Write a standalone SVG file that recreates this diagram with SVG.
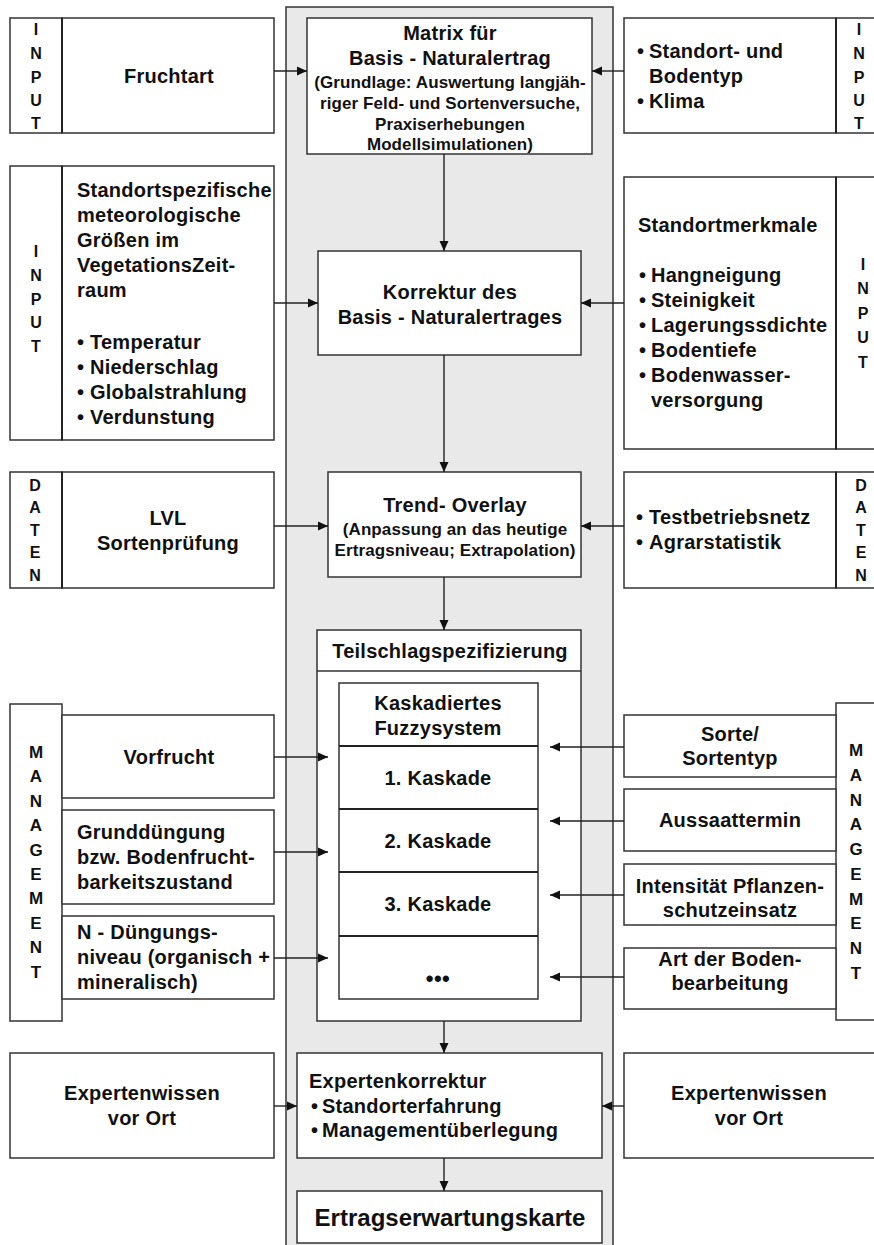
<svg xmlns="http://www.w3.org/2000/svg" width="874" height="1245" viewBox="0 0 874 1245">
<style>
.box{fill:#fff;stroke:#333;stroke-width:1.5}
.div{stroke:#222;stroke-width:2;fill:none}
.t{font-family:"Liberation Sans",Arial,sans-serif;font-weight:bold;font-size:20px;fill:#111;letter-spacing:0.25px}
.c{text-anchor:middle}
.s{font-size:17px;letter-spacing:0.1px}
.v{font-size:16px;text-anchor:middle;letter-spacing:0}
.m{font-size:17px}
.big{font-size:24px;letter-spacing:0}
.ln{stroke:#222;stroke-width:1.4;fill:none;marker-end:url(#ah)}
</style>
<defs>
<marker id="ah" viewBox="0 0 10 10" refX="10" refY="5" markerWidth="10" markerHeight="10" markerUnits="userSpaceOnUse" orient="auto">
<path d="M0,0.5 L10,5 L0,9.5 z" fill="#111"/>
</marker>
</defs>
<rect x="0" y="0" width="874" height="1245" fill="#fff"/>
<rect id="band" x="286" y="7" width="327" height="1250" fill="#e9e9e9" stroke="#333" stroke-width="1.5"/>

<!-- Left column -->
<g id="in-fruchtart">
<rect class="box" x="10" y="18" width="52" height="115"/>
<rect class="box" x="62" y="18" width="212" height="115"/>
<line class="div" x1="62" y1="18" x2="62" y2="133"/>
<text class="t v"><tspan x="36" y="35">I</tspan><tspan x="36" y="59">N</tspan><tspan x="36" y="83">P</tspan><tspan x="36" y="106">U</tspan><tspan x="36" y="129">T</tspan></text>
<text class="t c" x="169" y="83">Fruchtart</text>
</g>

<g id="in-meteo">
<rect class="box" x="10" y="166" width="52" height="274"/>
<rect class="box" x="62" y="166" width="212" height="274"/>
<line class="div" x1="62" y1="166" x2="62" y2="440"/>
<text class="t v"><tspan x="36" y="257">I</tspan><tspan x="36" y="281">N</tspan><tspan x="36" y="305">P</tspan><tspan x="36" y="328">U</tspan><tspan x="36" y="352">T</tspan></text>
<text class="t"><tspan x="77" y="197">Standortspezifische</tspan><tspan x="77" y="222">meteorologische</tspan><tspan x="77" y="247">Größen im</tspan><tspan x="77" y="272">VegetationsZeit-</tspan><tspan x="77" y="297">raum</tspan></text>
<text class="t"><tspan x="77" y="349">•</tspan><tspan x="90" y="349">Temperatur</tspan><tspan x="77" y="374">•</tspan><tspan x="90" y="374">Niederschlag</tspan><tspan x="77" y="399">•</tspan><tspan x="90" y="399">Globalstrahlung</tspan><tspan x="77" y="424">•</tspan><tspan x="90" y="424">Verdunstung</tspan></text>
</g>

<g id="daten-lvl">
<rect class="box" x="10" y="472" width="52" height="116"/>
<rect class="box" x="62" y="472" width="212" height="116"/>
<line class="div" x1="62" y1="472" x2="62" y2="588"/>
<text class="t v"><tspan x="35" y="491">D</tspan><tspan x="35" y="513">A</tspan><tspan x="35" y="536">T</tspan><tspan x="35" y="558">E</tspan><tspan x="35" y="581">N</tspan></text>
<text class="t c"><tspan x="168" y="525">LVL</tspan><tspan x="168" y="550">Sortenprüfung</tspan></text>
</g>

<g id="mgmt-left">
<rect class="box" x="10" y="704" width="52" height="317"/>
<text class="t v m"><tspan x="36" y="758">M</tspan><tspan x="36" y="782">A</tspan><tspan x="36" y="807">N</tspan><tspan x="36" y="831">A</tspan><tspan x="36" y="856">G</tspan><tspan x="36" y="880">E</tspan><tspan x="36" y="904">M</tspan><tspan x="36" y="929">E</tspan><tspan x="36" y="953">N</tspan><tspan x="36" y="978">T</tspan></text>
</g>
<g id="vorfrucht">
<rect class="box" x="62" y="715" width="212" height="83"/>
<text class="t c" x="169" y="764">Vorfrucht</text>
</g>
<g id="grundduengung">
<rect class="box" x="62" y="810" width="212" height="94"/>
<text class="t"><tspan x="77" y="839">Grunddüngung</tspan><tspan x="77" y="864">bzw. Bodenfrucht-</tspan><tspan x="77" y="889">barkeitszustand</tspan></text>
</g>
<g id="n-duengung">
<rect class="box" x="62" y="916" width="212" height="83"/>
<text class="t"><tspan x="77" y="939">N - Düngungs-</tspan><tspan x="77" y="964">niveau (organisch +</tspan><tspan x="77" y="989">mineralisch)</tspan></text>
</g>

<g id="experten-left">
<rect class="box" x="10" y="1053" width="264" height="105"/>
<text class="t c"><tspan x="142" y="1100">Expertenwissen</tspan><tspan x="142" y="1125">vor Ort</tspan></text>
</g>

<!-- Right column -->
<g id="in-standort">
<rect class="box" x="836" y="18" width="50" height="115"/>
<rect class="box" x="624" y="18" width="212" height="115"/>
<line class="div" x1="836" y1="18" x2="836" y2="133"/>
<text class="t v"><tspan x="859" y="35">I</tspan><tspan x="859" y="59">N</tspan><tspan x="859" y="83">P</tspan><tspan x="859" y="106">U</tspan><tspan x="859" y="129">T</tspan></text>
<text class="t"><tspan x="637" y="58">•</tspan><tspan x="649" y="58">Standort- und</tspan><tspan x="649" y="83">Bodentyp</tspan><tspan x="637" y="108">•</tspan><tspan x="649" y="108">Klima</tspan></text>
</g>

<g id="in-merkmale">
<rect class="box" x="836" y="177" width="50" height="272"/>
<rect class="box" x="624" y="177" width="212" height="272"/>
<line class="div" x1="836" y1="177" x2="836" y2="449"/>
<text class="t v"><tspan x="863" y="270">I</tspan><tspan x="863" y="294">N</tspan><tspan x="863" y="319">P</tspan><tspan x="863" y="343">U</tspan><tspan x="863" y="368">T</tspan></text>
<text class="t"><tspan x="638" y="232">Standortmerkmale</tspan>
<tspan x="639" y="282">•</tspan><tspan x="651" y="282">Hangneigung</tspan>
<tspan x="639" y="307">•</tspan><tspan x="651" y="307">Steinigkeit</tspan>
<tspan x="639" y="332">•</tspan><tspan x="651" y="332">Lagerungssdichte</tspan>
<tspan x="639" y="357">•</tspan><tspan x="651" y="357">Bodentiefe</tspan>
<tspan x="639" y="382">•</tspan><tspan x="651" y="382">Bodenwasser-</tspan>
<tspan x="651" y="407">versorgung</tspan></text>
</g>

<g id="daten-right">
<rect class="box" x="836" y="472" width="50" height="116"/>
<rect class="box" x="624" y="472" width="212" height="116"/>
<line class="div" x1="836" y1="472" x2="836" y2="588"/>
<text class="t v"><tspan x="861" y="491">D</tspan><tspan x="861" y="513">A</tspan><tspan x="861" y="536">T</tspan><tspan x="861" y="558">E</tspan><tspan x="861" y="581">N</tspan></text>
<text class="t"><tspan x="636" y="524">•</tspan><tspan x="649" y="524">Testbetriebsnetz</tspan><tspan x="636" y="549">•</tspan><tspan x="649" y="549">Agrarstatistik</tspan></text>
</g>

<g id="mgmt-right">
<rect class="box" x="836" y="703" width="50" height="317"/>
<text class="t v m"><tspan x="856" y="756">M</tspan><tspan x="856" y="781">A</tspan><tspan x="856" y="806">N</tspan><tspan x="856" y="830">A</tspan><tspan x="856" y="855">G</tspan><tspan x="856" y="880">E</tspan><tspan x="856" y="905">M</tspan><tspan x="856" y="929">E</tspan><tspan x="856" y="954">N</tspan><tspan x="856" y="979">T</tspan></text>
</g>
<g id="sorte">
<rect class="box" x="624" y="715" width="212" height="62"/>
<text class="t c"><tspan x="730" y="741">Sorte/</tspan><tspan x="730" y="765">Sortentyp</tspan></text>
</g>
<g id="aussaat">
<rect class="box" x="624" y="789" width="212" height="62"/>
<text class="t c" x="730" y="827">Aussaattermin</text>
</g>
<g id="pflanzenschutz">
<rect class="box" x="624" y="864" width="212" height="61"/>
<text class="t c"><tspan x="730" y="893">Intensität Pflanzen-</tspan><tspan x="730" y="917">schutzeinsatz</tspan></text>
</g>
<g id="bodenbearbeitung">
<rect class="box" x="624" y="948" width="212" height="61"/>
<text class="t c"><tspan x="730" y="966">Art der Boden-</tspan><tspan x="730" y="990">bearbeitung</tspan></text>
</g>

<g id="experten-right">
<rect class="box" x="624" y="1053" width="262" height="105"/>
<text class="t c"><tspan x="749" y="1100">Expertenwissen</tspan><tspan x="749" y="1125">vor Ort</tspan></text>
</g>

<!-- Central column -->
<g id="matrix">
<rect class="box" x="307" y="18" width="285" height="136"/>
<text class="t c"><tspan x="450" y="40">Matrix für</tspan><tspan x="450" y="65">Basis - Naturalertrag</tspan></text>
<text class="t c s"><tspan x="450" y="88">(Grundlage: Auswertung langjäh-</tspan><tspan x="450" y="109">riger Feld- und Sortenversuche,</tspan><tspan x="450" y="130">Praxiserhebungen</tspan><tspan x="450" y="150">Modellsimulationen)</tspan></text>
</g>

<g id="korrektur">
<rect class="box" x="318" y="251" width="263" height="104"/>
<text class="t c"><tspan x="450" y="299">Korrektur des</tspan><tspan x="450" y="324">Basis - Naturalertrages</tspan></text>
</g>

<g id="trend">
<rect class="box" x="328" y="472" width="253" height="105"/>
<text class="t c" x="455" y="512">Trend- Overlay</text>
<text class="t c s"><tspan x="455" y="535">(Anpassung an das heutige</tspan><tspan x="455" y="556">Ertragsniveau; Extrapolation)</tspan></text>
</g>

<g id="teilschlag">
<rect class="box" x="317" y="630" width="264" height="391"/>
<line x1="317" y1="671" x2="581" y2="671" stroke="#333" stroke-width="1.5"/>
<text class="t c" x="450" y="658">Teilschlagspezifizierung</text>
</g>

<g id="fuzzy">
<rect class="box" x="339" y="683" width="199" height="316"/>
<line class="div" x1="339" y1="746" x2="538" y2="746"/>
<line class="div" x1="339" y1="809" x2="538" y2="809"/>
<line class="div" x1="339" y1="872" x2="538" y2="872"/>
<line class="div" x1="339" y1="936" x2="538" y2="936"/>
<text class="t c"><tspan x="438" y="710">Kaskadiertes</tspan><tspan x="438" y="735">Fuzzysystem</tspan></text>
<text class="t c" x="438" y="785">1. Kaskade</text>
<text class="t c" x="438" y="848">2. Kaskade</text>
<text class="t c" x="438" y="911">3. Kaskade</text>
<text class="t c" x="438" y="986" style="font-size:22px;letter-spacing:0.5px">•••</text>
</g>

<g id="expertenkorrektur">
<rect class="box" x="297" y="1053" width="305" height="105"/>
<text class="t"><tspan x="309" y="1088">Expertenkorrektur</tspan><tspan x="311" y="1113">•</tspan><tspan x="322" y="1113">Standorterfahrung</tspan><tspan x="311" y="1137">•</tspan><tspan x="322" y="1137">Managementüberlegung</tspan></text>
</g>

<g id="ertragskarte">
<rect class="box" x="297" y="1191" width="305" height="52"/>
<text class="t c big" x="450" y="1226">Ertragserwartungskarte</text>
</g>

<g id="connectors">
<path class="ln" d="M444,154 V251"/>
<path class="ln" d="M444,355 V472"/>
<path class="ln" d="M444,577 V630"/>
<path class="ln" d="M444,1021 V1053"/>
<path class="ln" d="M444,1158 V1191"/>
<path class="ln" d="M274,71 H307"/>
<path class="ln" d="M624,71 H592"/>
<path class="ln" d="M274,303 H318"/>
<path class="ln" d="M624,303 H581"/>
<path class="ln" d="M274,526 H328"/>
<path class="ln" d="M624,526 H581"/>
<path class="ln" d="M274,757 H328"/>
<path class="ln" d="M274,852 H328"/>
<path class="ln" d="M274,958 H328"/>
<path class="ln" d="M624,747 H550"/>
<path class="ln" d="M624,821 H550"/>
<path class="ln" d="M624,895 H550"/>
<path class="ln" d="M624,977 H550"/>
<path class="ln" d="M274,1106 H297"/>
<path class="ln" d="M624,1106 H602"/>
</g>
</svg>
